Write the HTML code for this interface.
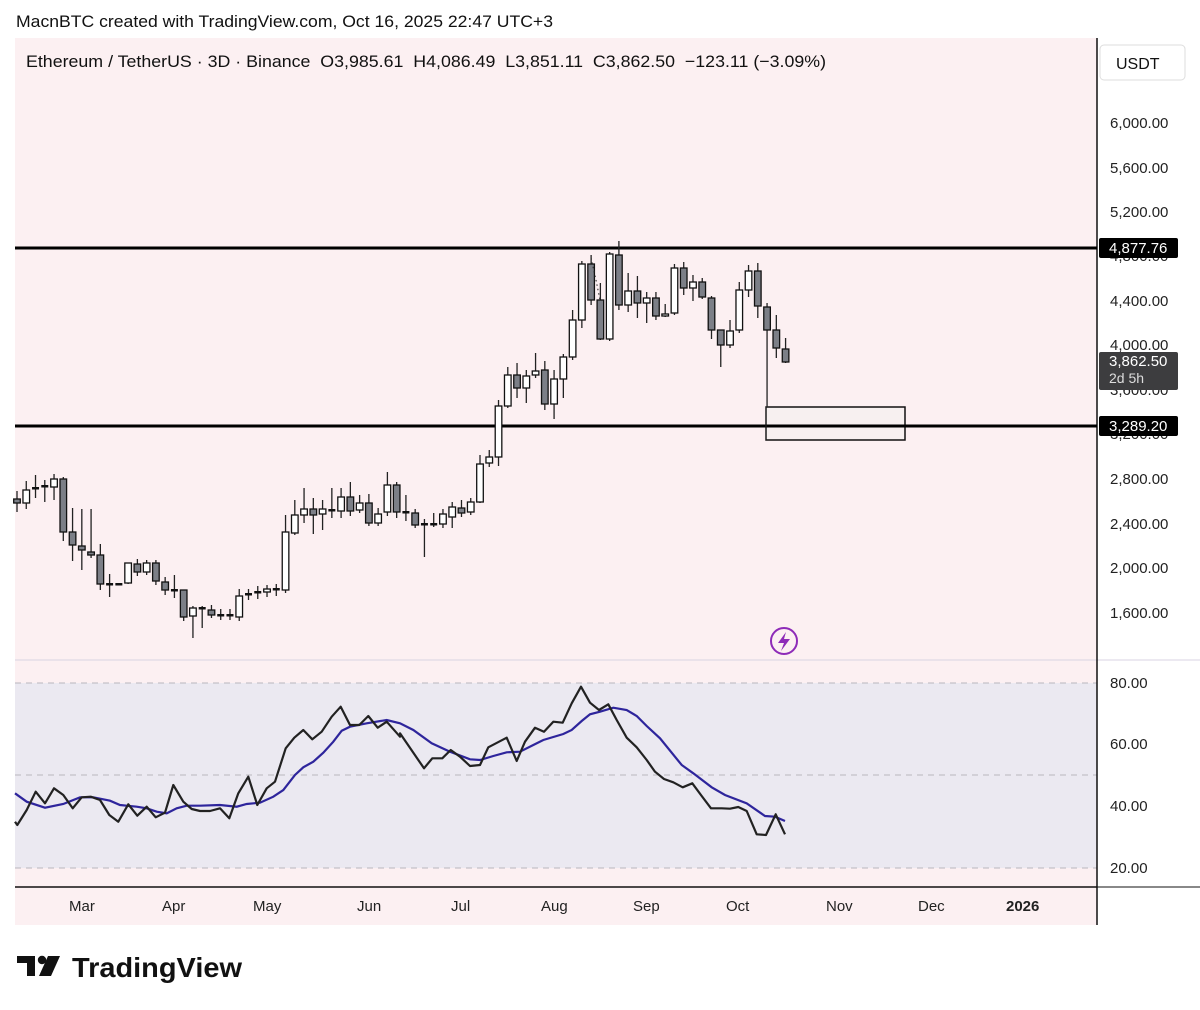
<!DOCTYPE html>
<html><head><meta charset="utf-8"><style>
body{margin:0;width:1200px;height:1010px;background:#fff;overflow:hidden;font-family:"Liberation Sans",sans-serif;}
svg{position:absolute;left:0;top:0}
</style></head><body>
<svg id="s" width="1200" height="1010" xmlns="http://www.w3.org/2000/svg" font-family="Liberation Sans, sans-serif">
<text x="16" y="27" font-size="17" fill="#111" textLength="537" lengthAdjust="spacingAndGlyphs">MacnBTC created with TradingView.com, Oct 16, 2025 22:47 UTC+3</text>
<rect x="15" y="38" width="1082" height="887" fill="#fcf0f2"/>
<rect x="15" y="683" width="1082" height="185" fill="#ebe9f1"/>
<line x1="15" y1="660" x2="1200" y2="660" stroke="#d8d3e3" stroke-width="1"/>
<g stroke="#b8b6bd" stroke-dasharray="6,5" stroke-width="1">
<line x1="15" y1="683" x2="1097" y2="683"/><line x1="15" y1="775" x2="1097" y2="775"/><line x1="15" y1="868" x2="1097" y2="868"/></g>
<line x1="15" y1="887" x2="1097" y2="887" stroke="#111" stroke-width="1.5"/>
<line x1="1097" y1="38" x2="1097" y2="925" stroke="#111" stroke-width="1.5"/>
<line x1="1097" y1="887" x2="1200" y2="887" stroke="#111" stroke-width="1"/>
<text x="26" y="67" font-size="17" fill="#111" xml:space="preserve" textLength="800" lengthAdjust="spacingAndGlyphs">Ethereum / TetherUS · 3D · Binance  O3,985.61  H4,086.49  L3,851.11  C3,862.50  −123.11 (−3.09%)</text>
<rect x="1100" y="45" width="85" height="35" rx="4" fill="#fff" stroke="#ddd"/>
<text x="1116" y="69" font-size="16" fill="#111">USDT</text>
<g font-size="15" fill="#222">
<text x="1110" y="128">6,000.00</text><text x="1110" y="173">5,600.00</text><text x="1110" y="217">5,200.00</text><text x="1110" y="261">4,800.00</text>
<text x="1110" y="306">4,400.00</text><text x="1110" y="350">4,000.00</text><text x="1110" y="395">3,600.00</text><text x="1110" y="439">3,200.00</text>
<text x="1110" y="484">2,800.00</text><text x="1110" y="529">2,400.00</text><text x="1110" y="573">2,000.00</text><text x="1110" y="618">1,600.00</text>
<text x="1110" y="688">80.00</text><text x="1110" y="749">60.00</text><text x="1110" y="811">40.00</text><text x="1110" y="873">20.00</text>
</g>
<g font-size="15" fill="#222">
<text x="69" y="911">Mar</text><text x="162" y="911">Apr</text><text x="253" y="911">May</text><text x="357" y="911">Jun</text>
<text x="451" y="911">Jul</text><text x="541" y="911">Aug</text><text x="633" y="911">Sep</text><text x="726" y="911">Oct</text>
<text x="826" y="911">Nov</text><text x="918" y="911">Dec</text><text x="1006" y="911" font-weight="bold">2026</text>
</g>
<rect x="766" y="407" width="139" height="33" fill="#f7f0f0" stroke="#111" stroke-width="1.5"/>
<line x1="15" y1="248" x2="1097" y2="248" stroke="#000" stroke-width="3"/>
<line x1="15" y1="426" x2="1097" y2="426" stroke="#000" stroke-width="3"/>
<g id="c"></g>
<rect x="1099" y="238" width="79" height="20" rx="2" fill="#000"/><text x="1109" y="253" font-size="15" fill="#fff">4,877.76</text>
<rect x="1099" y="352" width="79" height="38" rx="2" fill="#3d3d3f"/><text x="1109" y="366" font-size="15" fill="#fff">3,862.50</text><text x="1109" y="383" font-size="14" fill="#ddd">2d 5h</text>
<rect x="1099" y="416" width="79" height="20" rx="2" fill="#000"/><text x="1109" y="431" font-size="15" fill="#fff">3,289.20</text>
<circle cx="784" cy="641" r="13" fill="none" stroke="#8e2bb8" stroke-width="2"/>
<polygon points="786,632 778,643 784,643 781,651 790,639 784,639" fill="#8e2bb8"/>
<g id="r"></g>
<rect x="17" y="956" width="18" height="7" fill="#111"/><rect x="27" y="956" width="8" height="20" fill="#111"/>
<circle cx="42" cy="960" r="4.2" fill="#111"/>
<polygon points="48,956 60,956 51,976 39,976" fill="#111"/>
<text x="72" y="977" font-size="28" font-weight="bold" fill="#111" textLength="170" lengthAdjust="spacingAndGlyphs">TradingView</text>
</svg>
<script>
var C=[[499,503,491,512,1],[490,503,481,509,0],[488,489,475,498,1],[486,487,480,502,0],[479,487,474,500,0],[479,532,477,541,1],[532,545,508,561,1],[546,550,509,570,1],[552,555,509,558,1],[555,584,544,590,1],[584,585,574,597,1],[584,585,584,585,1],[563,583,563,584,0],[564,572,559,576,1],[563,572,560,575,0],[563,581,560,585,1],[582,590,577,595,1],[590,591,575,598,1],[590,617,590,621,1],[608,616,606,638,0],[608,609,606,628,1],[610,615,605,618,1],[615,616,609,620,1],[615,616,609,620,1],[596,617,589,621,0],[594,595,589,600,1],[592,593,586,599,1],[589,592,585,597,0],[589,590,584,596,1],[532,590,515,593,0],[515,533,500,535,0],[509,515,488,523,0],[509,515,498,534,1],[509,514,500,530,0],[510,511,488,518,1],[497,511,488,518,0],[497,511,482,516,1],[503,510,495,513,0],[503,523,494,526,1],[514,523,508,526,0],[485,512,472,516,0],[485,512,482,518,1],[512,513,495,521,1],[513,525,509,528,1],[524,525,519,557,1],[524,525,513,527,1],[514,524,509,528,0],[507,517,502,528,0],[508,513,500,517,1],[502,512,498,515,0],[464,502,455,503,0],[457,463,450,467,0],[406,457,400,466,0],
[375,406,367,408,0],[375,388,363,398,1],[376,388,370,403,0],[371,375,353,378,0],[370,404,361,410,1],[379,404,370,419,0],[357,379,354,398,0],[320,357,310,360,0],[264,320,261,328,0],[264,300,255,305,1],[300,339,283,340,1],[254,339,252,341,0],[255,305,241,310,1],[291,305,273,312,0],[291,303,276,318,1],[298,303,292,323,0],[298,316,292,320,1],[314,316,304,317,0],[268,313,264,315,0],[268,288,262,295,1],[282,288,275,301,0],[282,297,278,299,1],[298,330,296,339,1],[330,345,330,367,1],[331,345,320,348,0],[290,330,282,333,0],[271,290,265,297,0],[271,306,263,318,1],[307,330,303,407,1],[330,348,315,358,1],[349,362,338,363,1]];
var h='';C.forEach(function(c,i){var x=17+i*9.26;h+='<line x1="'+x+'" y1="'+c[2]+'" x2="'+x+'" y2="'+c[3]+'" stroke="#222" stroke-width="1.3"/>';var t=c[1]-c[0];if(t<2){h+='<rect x="'+(x-3.5)+'" y="'+(c[0]-1)+'" width="7" height="2.5" fill="#111"/>';}else h+='<rect x="'+(x-3.3)+'" y="'+c[0]+'" width="6.6" height="'+t+'" fill="'+(c[4]?'#7c7f87':'#fff')+'" stroke="#111" stroke-width="1.3"/>';});
h+='<polyline points="591,258 596,280 600,300" fill="none" stroke="#222" stroke-dasharray="1.5,3"/>';
h+='<line x1="766" y1="407" x2="766" y2="440" stroke="#222"/>';
document.getElementById('c').innerHTML=h;
var b3=[[45,485],[52,495],[80,450],[107,395],[135,430],[162,385],[190,405],[218,445],[245,412],[272,410],[300,420],[328,465],[355,485],[385,433],[412,467],[440,440],[467,472],[495,458],[520,375],[550,425],[575,447],[600,453],[630,453],[660,445],[688,475],[715,400],[745,350],[772,435],[800,385],[825,365],[857,265],[883,233],[910,210],[937,238],[965,215],[995,170],[1022,140],[1050,195],[1078,195],[1105,168],[1133,203],[1160,185],[1200,230]];
var b4=[[0,220],[72,325],[97,295],[127,295],[152,270],[180,290],[210,318],[240,315],[265,262],[320,233],[350,303],[375,245],[405,203],[432,215],[460,185],[488,188],[515,130],[543,80],[570,128],[597,150],[625,133],[650,180],[680,233],[710,262],[740,300],[765,335],[792,357],[820,367],[848,382],[877,370],[905,408],[933,445],[965,445],[990,446],[1015,441],[1040,453],[1070,523],[1098,525],[1127,463],[1155,523]];
var u3=[[45,400],[80,425],[135,443],[190,432],[240,412],[280,412],[330,422],[360,435],[410,440],[440,445],[470,455],[500,460],[530,445],[560,437],[600,437],[660,435],[710,440],[740,432],[780,428],[820,410],[850,390],[885,345],[910,322],[940,305],[970,278],[1000,245],[1025,212],[1050,200],[1100,190],[1160,180],[1200,190]];
var u4=[[0,190],[40,210],[95,250],[150,275],[210,298],[240,300],[280,288],[320,277],[360,275],[400,255],[430,240],[490,222],[515,210],[545,183],[570,163],[600,155],[640,143],[680,150],[710,168],[740,198],[780,235],[845,315],[880,340],[935,382],[975,405],[1040,430],[1095,468],[1125,470],[1155,483]];
function P(a,o){return a.map(function(p){return (p[0]/3+o).toFixed(1)+','+(p[1]/3+660).toFixed(1)}).join(' ')}
document.getElementById('r').innerHTML='<polyline points="'+P(u3,0)+' '+P(u4,400)+'" fill="none" stroke="#2e259c" stroke-width="2.2"/><polyline points="'+P(b3,0)+' '+P(b4,400)+'" fill="none" stroke="#222" stroke-width="2.2" stroke-linejoin="round"/>';
</script>
</body></html>
